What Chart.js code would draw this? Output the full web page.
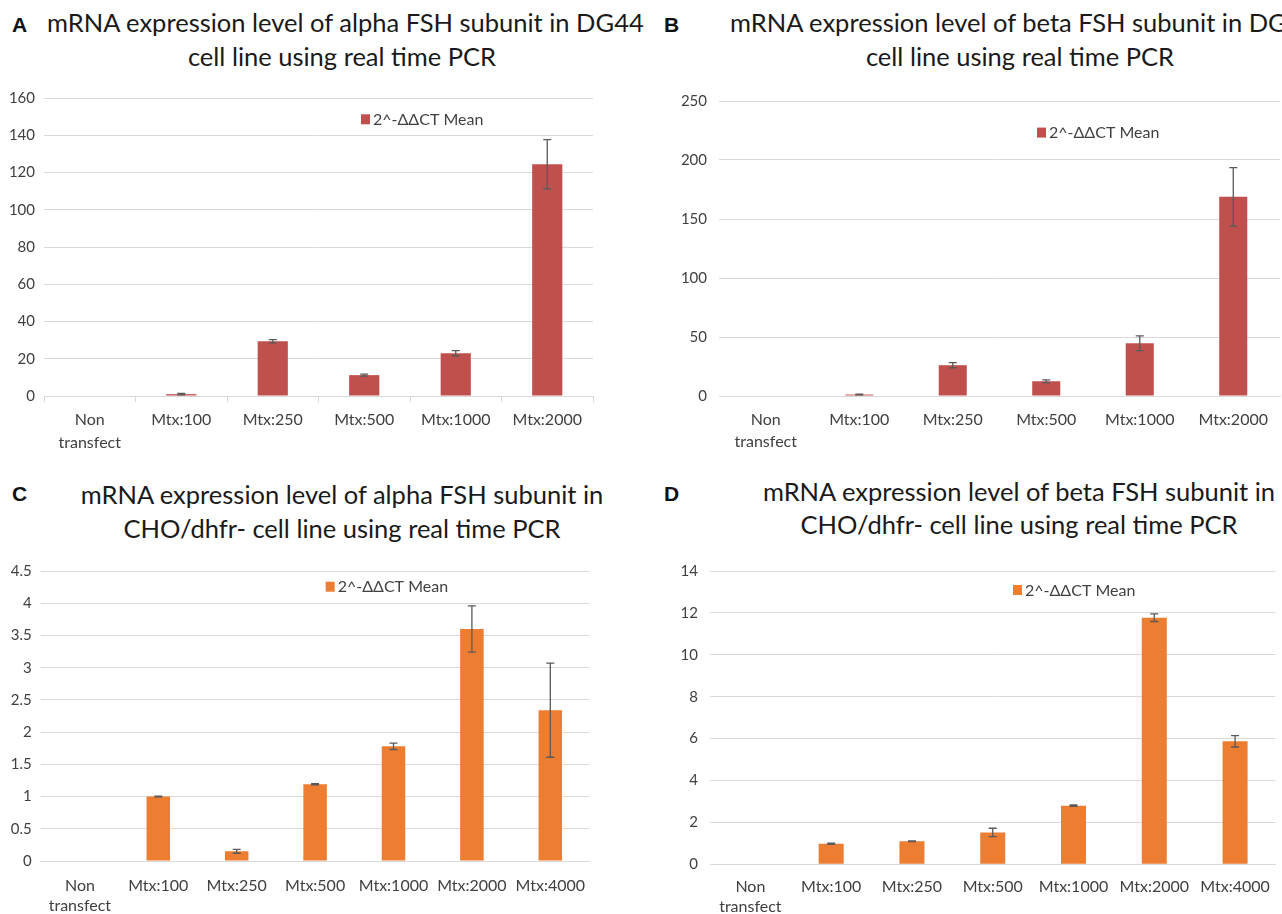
<!DOCTYPE html>
<html><head><meta charset="utf-8">
<script src="https://cdn.jsdelivr.net/npm/chart.js@4.4.1/dist/chart.umd.min.js"></script>
<style>
html,body{margin:0;padding:0;background:#fff;}
body{width:1282px;height:914px;position:relative;overflow:hidden;}
canvas{position:absolute;}
.letter{position:absolute;font-family:"Liberation Sans",Arial,sans-serif;font-weight:bold;font-size:21px;line-height:21px;color:#111;}
.tl{position:absolute;font-family:Lato,sans-serif;font-size:25.5px;line-height:25.5px;color:#1a1a1a;white-space:nowrap;}
</style></head><body>
<div class="letter" style="left:12px;top:14px">A</div>
<div class="letter" style="left:664px;top:14px">B</div>
<div class="letter" style="left:12px;top:483px">C</div>
<div class="letter" style="left:664px;top:483px">D</div>

<div class="tl" id="tA1" style="left:47px;top:9.7px">mRNA expression level of alpha FSH subunit in DG44</div>
<div class="tl" id="tA2" style="left:342px;top:44.4px;transform:translateX(-50%)">cell line using real time PCR</div>
<div class="tl" id="tB1" style="left:730px;top:9.7px">mRNA expression level of beta FSH subunit in DG</div>
<div class="tl" id="tB2" style="left:1020px;top:44.4px;transform:translateX(-50%)">cell line using real time PCR</div>
<div class="tl" id="tC1" style="left:342px;top:482.4px;transform:translateX(-50%)">mRNA expression level of alpha FSH subunit in</div>
<div class="tl" id="tC2" style="left:342px;top:515.7px;transform:translateX(-50%)">CHO/dhfr- cell line using real time PCR</div>
<div class="tl" id="tD1" style="left:1019px;top:479px;transform:translateX(-50%)">mRNA expression level of beta FSH subunit in</div>
<div class="tl" id="tD2" style="left:1019px;top:512.4px;transform:translateX(-50%)">CHO/dhfr- cell line using real time PCR</div>

<canvas id="cA" width="640" height="380" style="left:0;top:80px;width:640px;height:380px"></canvas>
<canvas id="cB" width="642" height="380" style="left:640px;top:80px;width:642px;height:380px"></canvas>
<canvas id="cC" width="640" height="364" style="left:0;top:550px;width:640px;height:364px"></canvas>
<canvas id="cD" width="642" height="364" style="left:640px;top:550px;width:642px;height:364px"></canvas>

<script>
// ---- data ----
const seriesLabel = '2^-\u0394\u0394CT Mean';

const catsA = [['Non', 'transfect'], 'Mtx:100', 'Mtx:250', 'Mtx:500', 'Mtx:1000', 'Mtx:2000'];
const valsA = [0, 1.0, 29.4, 11.2, 23.0, 124.4];
const errA  = [null, 0.4, 0.9, 0.5, 1.4, 13.2];
const yTicksA = [0, 20, 40, 60, 80, 100, 120, 140, 160];

const catsB = [['Non', 'transfect'], 'Mtx:100', 'Mtx:250', 'Mtx:500', 'Mtx:1000', 'Mtx:2000'];
const valsB = [0, 1.2, 26.1, 12.5, 44.7, 168.8];
const errB  = [null, 0.3, 2.2, 1.2, 6.3, 24.8];
const yTicksB = [0, 50, 100, 150, 200, 250];

const catsC = [['Non', 'transfect'], 'Mtx:100', 'Mtx:250', 'Mtx:500', 'Mtx:1000', 'Mtx:2000', 'Mtx:4000'];
const valsC = [0, 1.0, 0.15, 1.19, 1.78, 3.6, 2.34];
const errC  = [null, 0.005, 0.03, 0.01, 0.05, 0.36, 0.73];
const yTicksC = [0, 0.5, 1, 1.5, 2, 2.5, 3, 3.5, 4, 4.5];

const catsD = [['Non', 'transfect'], 'Mtx:100', 'Mtx:250', 'Mtx:500', 'Mtx:1000', 'Mtx:2000', 'Mtx:4000'];
const valsD = [0, 0.98, 1.1, 1.52, 2.8, 11.77, 5.87];
const errD  = [null, 0.03, 0.02, 0.2, 0.03, 0.18, 0.27];
const yTicksD = [0, 2, 4, 6, 8, 10, 12, 14];

// ---- plugins ----
const errorBarPlugin = {
  id: 'errorBars',
  afterDatasetsDraw(chart, args, opts) {
    const ctx = chart.ctx;
    const meta = chart.getDatasetMeta(0);
    const ys = chart.scales.y;
    const data = chart.data.datasets[0].data;
    ctx.save();
    ctx.strokeStyle = '#595959';
    ctx.lineWidth = 1.3;
    meta.data.forEach((bar, i) => {
      const e = opts.errors[i];
      if (e == null) return;
      const v = data[i];
      const yt = ys.getPixelForValue(v + e), yb = ys.getPixelForValue(v - e);
      const x = bar.x, c = 4;
      ctx.beginPath();
      ctx.moveTo(x, yt); ctx.lineTo(x, yb);
      ctx.moveTo(x - c, yt); ctx.lineTo(x + c, yt);
      ctx.moveTo(x - c, yb); ctx.lineTo(x + c, yb);
      ctx.stroke();
    });
    ctx.restore();
  }
};
const legendPlugin = {
  id: 'insideLegend',
  afterDraw(chart, args, opts) {
    const {ctx, chartArea} = chart;
    const ds = chart.data.datasets[0];
    const x = chartArea.left + opts.dx, y = chartArea.top + opts.dy;
    ctx.save();
    ctx.fillStyle = ds.backgroundColor;
    ctx.fillRect(x, y, 9, 10);
    ctx.fillStyle = '#404040';
    ctx.font = '16px Lato';
    ctx.textBaseline = 'middle';
    ctx.textAlign = 'left';
    ctx.fillText(ds.label, x + 12, y + 5.5);
    ctx.restore();
  }
};

function makeChart(id, cats, vals, errs, yTicks, cfg) {
  return new Chart(document.getElementById(id), {
    type: 'bar',
    data: {
      labels: cats,
      datasets: [{
        label: seriesLabel,
        data: vals,
        backgroundColor: cfg.color,
        borderWidth: 0,
        barPercentage: cfg.barPct,
        categoryPercentage: 1
      }]
    },
    options: {
      responsive: false,
      animation: false,
      devicePixelRatio: 1,
      layout: { padding: { left: 0, right: cfg.padRight, top: cfg.padTop, bottom: 0 } },
      plugins: {
        legend: { display: false },
        title: { display: false },
        tooltip: { enabled: false },
        errorBars: { errors: errs },
        insideLegend: { dx: cfg.legDx, dy: cfg.legDy }
      },
      scales: {
        x: {
          type: 'category',
          offset: true,
          grid: {
            display: cfg.ticks,
            drawOnChartArea: false,
            drawTicks: cfg.ticks,
            tickLength: 6,
            offset: true,
            color: '#D9D9D9'
          },
          border: { display: true, color: '#D9D9D9', width: 1 },
          ticks: {
            color: '#404040',
            font: { family: 'Lato', size: 16, lineHeight: cfg.xLH },
            padding: cfg.xPad,
            maxRotation: 0,
            autoSkip: false
          },
          afterFit: s => { s.height = cfg.xH; }
        },
        y: {
          min: yTicks[0],
          max: yTicks[yTicks.length - 1],
          grid: { color: '#D9D9D9', lineWidth: 1, drawTicks: false },
          border: { display: false },
          ticks: {
            color: '#404040',
            font: { family: 'Lato', size: 15 },
            padding: cfg.yPad,
            callback: v => String(v)
          },
          afterBuildTicks: s => { s.ticks = yTicks.map(v => ({ value: v })); },
          afterFit: s => { s.width = cfg.yW; }
        }
      }
    },
    plugins: [errorBarPlugin, legendPlugin]
  });
}

const red = '#C0504D', orange = '#ED7D31';
function build() {
  makeChart('cA', catsA, valsA, errA, yTicksA,
    { color: red, barPct: 0.33, padRight: 47, padTop: 15.7, xH: 64, yW: 44, ticks: true, xPad: 6, xLH: 1.45, yPad: 9, legDx: 317, legDy: 16.3 });
  makeChart('cB', catsB, valsB, errB, yTicksB,
    { color: red, barPct: 0.30, padRight: 2, padTop: 15.7, xH: 64, yW: 79, ticks: false, xPad: 12, xLH: 1.42, yPad: 12, legDx: 318, legDy: 26.6 });
  makeChart('cC', catsC, valsC, errC, yTicksC,
    { color: orange, barPct: 0.30, padRight: 50.5, padTop: 21, xH: 53, yW: 40.7, ticks: false, xPad: 14, xLH: 1.3, yPad: 9, legDx: 285, legDy: 10.7 });
  makeChart('cD', catsD, valsD, errD, yTicksD,
    { color: orange, barPct: 0.31, padRight: 3, padTop: 17.7, xH: 49.7, yW: 70, ticks: false, xPad: 12, xLH: 1.27, yPad: 12, legDx: 303, legDy: 14 });
}
if (document.fonts && document.fonts.load) {
  Promise.all([document.fonts.load('16px Lato'), document.fonts.load('25.5px Lato')]).then(build, build);
} else { build(); }
</script>
</body></html>
